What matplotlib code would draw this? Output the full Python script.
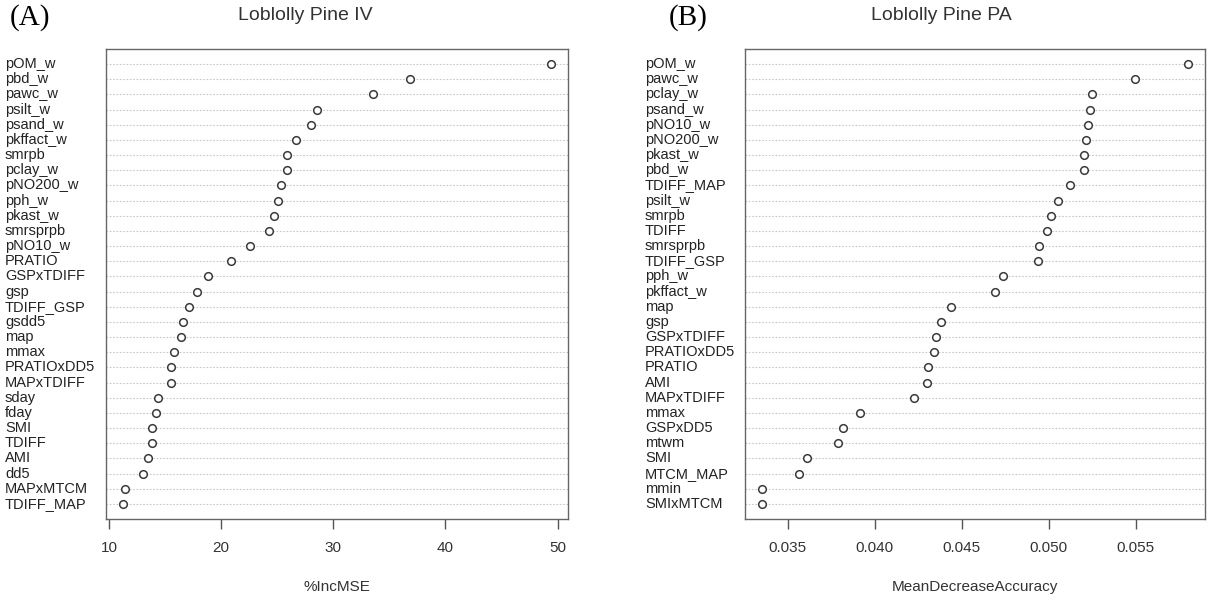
import numpy as np
import matplotlib
matplotlib.use("Agg")
from matplotlib import pyplot as plt
from matplotlib.transforms import blended_transform_factory

plt.rcParams["font.family"] = ["Liberation Sans", "DejaVu Sans"]

# panel A: %IncMSE, listed top to bottom
iv_vars = ["pOM_w", "pbd_w", "pawc_w", "psilt_w", "psand_w", "pkffact_w", "smrpb",
           "pclay_w", "pNO200_w", "pph_w", "pkast_w", "smrsprpb", "pNO10_w", "PRATIO",
           "GSPxTDIFF", "gsp", "TDIFF_GSP", "gsdd5", "map", "mmax", "PRATIOxDD5",
           "MAPxTDIFF", "sday", "fday", "SMI", "TDIFF", "AMI", "dd5", "MAPxMTCM", "TDIFF_MAP"]
iv_mse = [49.4, 36.8, 33.5, 28.5, 28.0, 26.7, 25.85, 25.9, 25.3, 25.1, 24.7, 24.3, 22.6, 20.9,
          18.8, 17.85, 17.1, 16.6, 16.4, 15.8, 15.55, 15.5, 14.4, 14.2, 13.8, 13.85, 13.45,
          13.0, 11.4, 11.25]

# panel B: MeanDecreaseAccuracy, listed top to bottom
pa_vars = ["pOM_w", "pawc_w", "pclay_w", "psand_w", "pNO10_w", "pNO200_w", "pkast_w", "pbd_w",
           "TDIFF_MAP", "psilt_w", "smrpb", "TDIFF", "smrsprpb", "TDIFF_GSP", "pph_w",
           "pkffact_w", "map", "gsp", "GSPxTDIFF", "PRATIOxDD5", "PRATIO", "AMI", "MAPxTDIFF",
           "mmax", "GSPxDD5", "mtwm", "SMI", "MTCM_MAP", "mmin", "SMIxMTCM"]
pa_acc = [0.0580, 0.05495, 0.05251, 0.05238, 0.05223, 0.05214, 0.05203, 0.05200, 0.05121,
          0.05052, 0.05012, 0.04990, 0.04943, 0.04939, 0.04735, 0.04693, 0.04436, 0.04383,
          0.04353, 0.04340, 0.04305, 0.04302, 0.04227, 0.03915, 0.03817, 0.03790, 0.03613,
          0.03562, 0.03353, 0.03352]

iv_ticks = [10, 20, 30, 40, 50]
pa_ticks = [0.035, 0.040, 0.045, 0.050, 0.055]

W, H = 1207, 603
fig = plt.figure(figsize=(W / 100, H / 100), dpi=100)


def dotchart(ax_box, label_x, names, values, ticks, tick_fmt, title, title_x, xlabel,
             letter, letter_x):
    ax = fig.add_axes(ax_box)
    n = len(names)
    ypos = np.arange(n)
    lo, hi = min(values), max(values)
    pad = (hi - lo) * 0.04
    ax.set_xlim(lo - pad, hi + pad)
    ax.set_ylim(n, -1)
    for y in ypos:
        ax.axhline(y, color="#c8c8c8", lw=0.8, ls=(0, (1.5, 1.5)), zorder=1)
    ax.plot(values, ypos, "o", mfc="white", mec="#3a3a3a", ms=5.5, mew=1.1, zorder=3)
    ax.set_yticks([])
    ax.set_xticks(ticks)
    ax.set_xticklabels([tick_fmt.format(t) for t in ticks], fontsize=11, color="#333333")
    ax.tick_params(axis="x", direction="out", length=7, width=1, color="#555555", pad=9)
    for sp in ax.spines.values():
        sp.set_color("#666666")
        sp.set_linewidth(1.0)
    ax.set_xlabel(xlabel, fontsize=11, color="#333333", labelpad=18)
    trans = blended_transform_factory(fig.transFigure, ax.transData)
    for y, name in zip(ypos, names):
        ax.text(label_x, y, name, transform=trans, ha="left", va="center",
                fontsize=10.5, color="#222222", clip_on=False)
    fig.text(title_x, 1 - 15 / H, title, ha="center", va="center", fontsize=14, color="#333333")
    fig.text(letter_x, 1 - 18 / H, letter, ha="center", va="center", fontsize=21,
             family=["Liberation Serif", "DejaVu Serif"], color="black")
    return ax


dotchart([106 / W, 1 - 519 / H, 462 / W, 470 / H], 5 / W, iv_vars, iv_mse, iv_ticks,
         "{:g}", "Loblolly Pine IV", 305 / W, "%IncMSE", "(A)", 30 / W)
dotchart([745 / W, 1 - 519 / H, 460 / W, 470 / H], 645 / W, pa_vars, pa_acc, pa_ticks,
         "{:.3f}", "Loblolly Pine PA", 941 / W, "MeanDecreaseAccuracy", "(B)", 688 / W)

fig.savefig("out.png", dpi=100)
